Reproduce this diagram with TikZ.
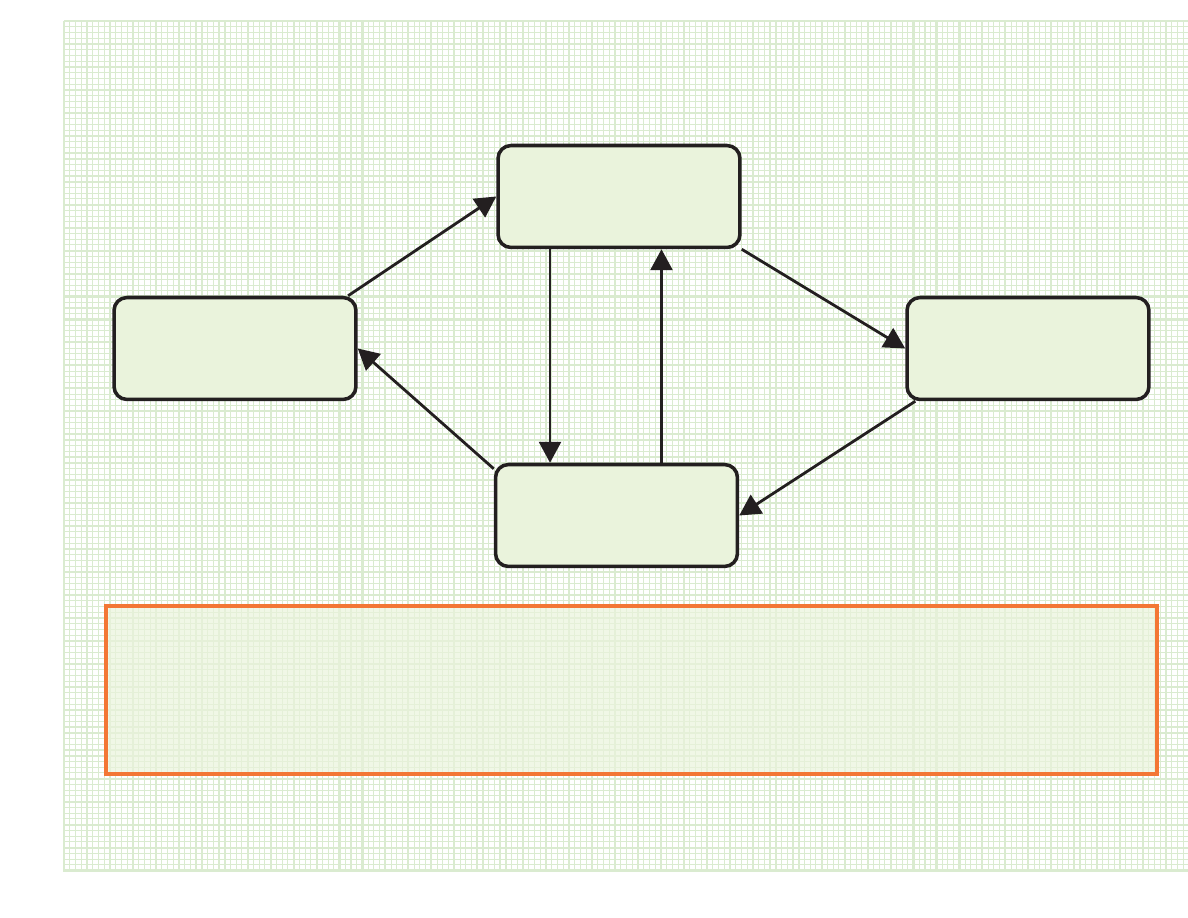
\documentclass[tikz,border=0pt]{standalone}
\usepackage{xcolor}
\usepackage{tikz}
\usetikzlibrary{positioning,arrows.meta,calc}

\definecolor{gridgreen}{HTML}{DAEBD0}
\definecolor{boxgreen}{HTML}{EAF3DC}
\definecolor{inkdark}{HTML}{231F20}
\definecolor{noteorange}{HTML}{F37735}

\begin{document}
\begin{tikzpicture}[x=0.02cm, y=-0.02cm,
  fine/.style={draw=gridgreen, line width=0.6pt},
  major/.style={draw=gridgreen, line width=1.2pt},
  stage/.style={draw=inkdark, line width=2pt, rounded corners=0.26cm, fill=boxgreen, minimum width=4.84cm, minimum height=2.04cm, inner sep=0pt},
  memobox/.style={draw=noteorange, line width=2.4pt, fill=boxgreen, fill opacity=0.7, minimum width=21.02cm, minimum height=3.36cm, inner sep=0pt},
  link/.style={draw=inkdark, line width=1.6pt},
  >={Triangle[length=0.42cm, width=0.44cm]}]
\useasboundingbox (0,0) rectangle (1188,918);
% squared paper
\foreach \i in {0,...,195} \draw[fine] (64+\i*5.74,21) -- (64+\i*5.74,872);
\foreach \j in {0,...,148} \draw[fine] (64,21+\j*5.74) -- (1188,21+\j*5.74);
\foreach \i in {0,...,48} \draw[major] (64+\i*22.96,21) -- (64+\i*22.96,872);
\foreach \j in {0,...,37} \draw[major] (64,21+\j*22.96) -- (1188,21+\j*22.96);
% boxes
\node[stage] (upper) at (619,196.5) {};
\node[stage] (lhs) at (235,348.5) {};
\node[stage] (rhs) at (1028,348.5) {};
\node[stage] (lower) at (616.5,515.5) {};
\node[memobox] (memo) at (631.5,690) {};
% connectors
\draw[link,->] (lhs.25) -- (upper.west);
\draw[link,->] ([xshift=-1.38cm]upper.south) -- ([xshift=-1.38cm]upper.south |- lower.north);
\draw[link,->] ([xshift=0.9cm]lower.north) -- ([xshift=0.9cm]lower.north |- upper.south);
\draw[link,->] (upper.south east) -- (rhs.west);
\draw[link,->] ([xshift=0.2cm]rhs.south west) -- (lower.east);
\draw[link,->] ([yshift=-0.12cm]lower.north west) -- (lhs.east);
\end{tikzpicture}
\end{document}
